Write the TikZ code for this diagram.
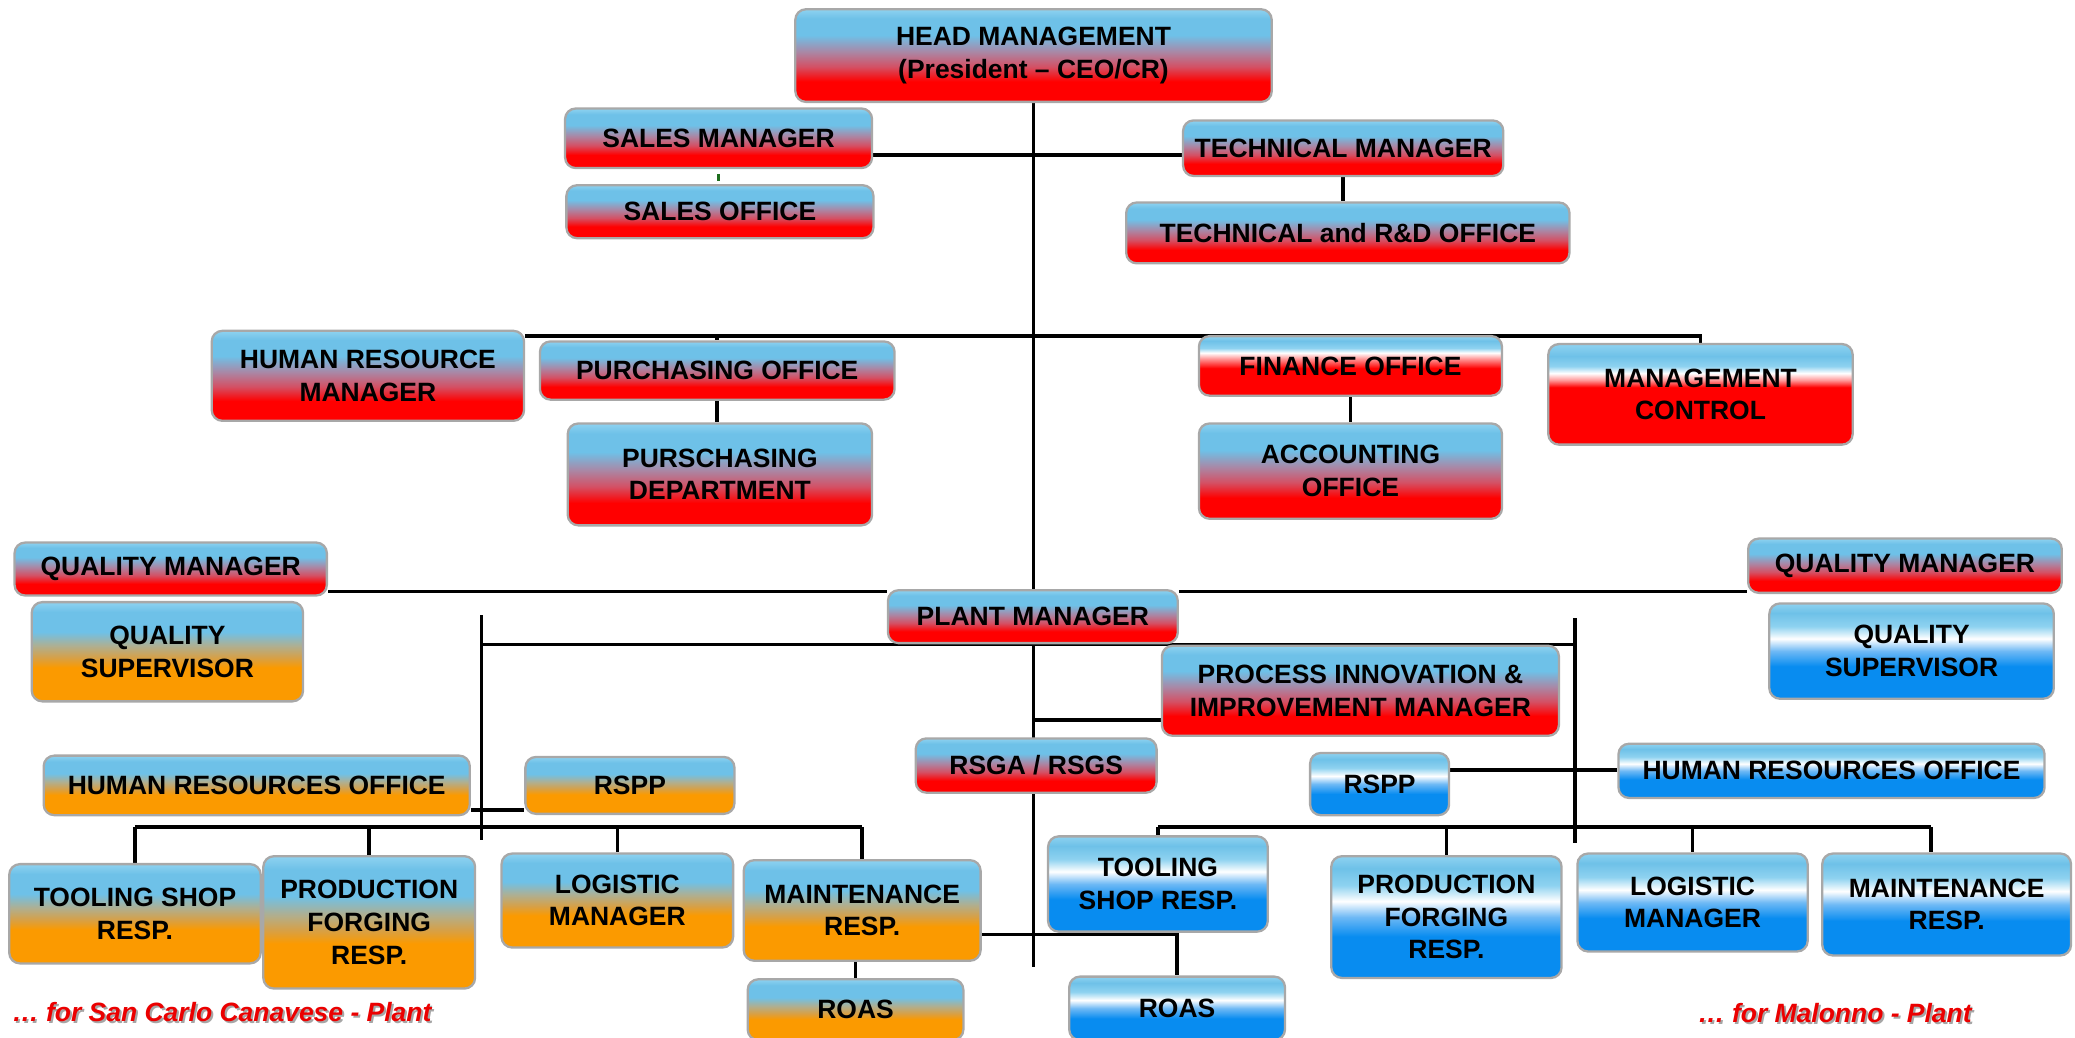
\documentclass[tikz,border=0pt]{standalone}
\usepackage{fontspec}
\setmainfont{Liberation Sans}
\usetikzlibrary{calc}
\pgfdeclarelayer{bg}
\pgfsetlayers{bg,main}

\definecolor{lb}{RGB}{142,210,240}
\definecolor{bl}{RGB}{110,193,232}
\definecolor{rd}{RGB}{255,0,0}
\definecolor{mauveA}{RGB}{212,80,100}
\definecolor{mauveB}{RGB}{170,135,165}
\definecolor{orng}{RGB}{251,154,0}
\definecolor{tanA}{RGB}{215,160,70}
\definecolor{tanB}{RGB}{175,175,145}
\definecolor{dblue}{RGB}{8,140,240}
\definecolor{mblue}{RGB}{110,185,245}
\definecolor{pinkA}{RGB}{255,150,150}
\definecolor{bordergray}{RGB}{168,168,168}
\definecolor{lblred}{RGB}{235,0,0}
\definecolor{tick}{RGB}{30,110,30}

\pgfdeclareverticalshading{redsh}{100bp}{color(0bp)=(rd); color(36bp)=(rd); color(44bp)=(mauveA); color(52bp)=(mauveB); color(61bp)=(bl); color(70bp)=(bl); color(75bp)=(lb); color(100bp)=(lb)}
\pgfdeclareverticalshading{orsh}{100bp}{color(0bp)=(orng); color(42bp)=(orng); color(47bp)=(tanA); color(53bp)=(tanB); color(60bp)=(bl); color(70bp)=(bl); color(75bp)=(lb); color(100bp)=(lb)}
\pgfdeclareverticalshading{bwsh}{100bp}{color(0bp)=(dblue); color(42bp)=(dblue); color(50bp)=(mblue); color(56.5bp)=(white); color(63bp)=(lb); color(70bp)=(bl); color(75bp)=(lb); color(100bp)=(lb)}
\pgfdeclareverticalshading{fosh}{100bp}{color(0bp)=(rd); color(48bp)=(rd); color(56bp)=(pinkA); color(61bp)=(white); color(65bp)=(lb); color(71bp)=(bl); color(75bp)=(lb); color(100bp)=(lb)}
\pgfdeclareverticalshading{mcsh}{100bp}{color(0bp)=(rd); color(53.5bp)=(rd); color(57bp)=(pinkA); color(60.5bp)=(white); color(64bp)=(lb); color(69bp)=(bl); color(75bp)=(lb); color(100bp)=(lb)}

\tikzset{
  nb/.style={draw=bordergray, line width=1.3pt, rounded corners=6pt,
    font=\bfseries\fontsize{15}{18.5}\selectfont, align=center,
    inner sep=0pt, text=black},
  sz/.style 2 args={minimum width=#1*0.75pt, minimum height=#2*0.75pt},
  conn/.style={line width=2pt, black},
  lbl/.style={font=\bfseries\itshape\fontsize{15}{18}\selectfont, inner sep=0pt},
}

\begin{document}
\begin{tikzpicture}[x=0.75pt, y=-0.75pt]
\useasboundingbox (0,0) rectangle (1568,784);

% ---------- top management ----------
\node[nb, shading=redsh, sz={360}{70}] (head) at (781,42) {HEAD MANAGEMENT\\(President – CEO/CR)};
\node[nb, shading=redsh, sz={232}{45}] (salesm) at (543,104.5) {SALES MANAGER};
\node[nb, shading=redsh, sz={232}{40}] (saleso) at (544,160) {SALES OFFICE};
\node[nb, shading=redsh, sz={242}{42}] (techm) at (1015,112) {TECHNICAL MANAGER};
\node[nb, shading=redsh, sz={335}{46}] (techrd) at (1018.5,176) {TECHNICAL and R\&D OFFICE};

\node[nb, shading=redsh, sz={236}{68}] (hrm) at (278,284) {HUMAN RESOURCE\\MANAGER};
\node[nb, shading=redsh, sz={268}{44}] (po) at (542,280) {PURCHASING OFFICE};
\node[nb, shading=redsh, sz={230}{77}] (pd) at (544,358.5) {PURSCHASING\\DEPARTMENT};
\node[nb, shading=fosh, sz={229}{45}] (fo) at (1020.5,276.5) {FINANCE OFFICE};
\node[nb, shading=redsh, sz={229}{72}] (ao) at (1020.5,356) {ACCOUNTING\\OFFICE};
\node[nb, shading=mcsh, sz={230}{76}] (mc) at (1285,298) {MANAGEMENT\\CONTROL};

% ---------- plant level ----------
\node[nb, shading=redsh, sz={236}{40}] (qml) at (129,430) {QUALITY MANAGER};
\node[nb, shading=orsh, sz={205}{75}] (qsl) at (126.5,492.5) {QUALITY\\SUPERVISOR};
\node[nb, shading=redsh, sz={219}{40}] (pm) at (780.5,466) {PLANT MANAGER};
\node[nb, shading=redsh, sz={237}{41}] (qmr) at (1439.5,427.5) {QUALITY MANAGER};
\node[nb, shading=bwsh, sz={215}{72}] (qsr) at (1444.5,492) {QUALITY\\SUPERVISOR};
\node[nb, shading=redsh, sz={300}{68}] (pim) at (1028,522) {PROCESS INNOVATION \&\\IMPROVEMENT MANAGER};
\node[nb, shading=redsh, sz={182}{41}] (rsga) at (783,578.5) {RSGA / RSGS};

% ---------- San Carlo Canavese ----------
\node[nb, shading=orsh, sz={322}{45}] (hrl) at (194,593.5) {HUMAN RESOURCES OFFICE};
\node[nb, shading=orsh, sz={158}{43}] (rsppl) at (476,593.5) {RSPP};
\node[nb, shading=orsh, sz={190}{75}] (tsl) at (102,690.5) {TOOLING SHOP\\RESP.};
\node[nb, shading=orsh, sz={160}{100}] (pfl) at (279,697) {PRODUCTION\\FORGING\\RESP.};
\node[nb, shading=orsh, sz={175}{71}] (lml) at (466.5,680.5) {LOGISTIC\\MANAGER};
\node[nb, shading=orsh, sz={179}{76}] (mtl) at (651.5,688) {MAINTENANCE\\RESP.};
\node[nb, shading=orsh, sz={163}{46}] (roasl) at (646.5,763) {ROAS};

% ---------- Malonno ----------
\node[nb, shading=bwsh, sz={105}{47}] (rsppr) at (1042.5,592.5) {RSPP};
\node[nb, shading=bwsh, sz={322}{41}] (hrr) at (1384,582.5) {HUMAN RESOURCES OFFICE};
\node[nb, shading=bwsh, sz={166}{72}] (tsr) at (875,668) {TOOLING\\SHOP RESP.};
\node[nb, shading=bwsh, sz={174}{92}] (pfr) at (1093,693) {PRODUCTION\\FORGING\\RESP.};
\node[nb, shading=bwsh, sz={174}{74}] (lmr) at (1279,682) {LOGISTIC\\MANAGER};
\node[nb, shading=bwsh, sz={188}{77}] (mtr) at (1471,683.5) {MAINTENANCE\\RESP.};
\node[nb, shading=bwsh, sz={163}{48}] (roasr) at (889.5,762) {ROAS};

% ---------- labels ----------
\node[lbl, text=black!35, anchor=base west] (lblAs) at (10.5,773.5) {… for San Carlo Canavese - Plant};
\node[lbl, text=lblred, anchor=base west] (lblA) at (9,772) {… for San Carlo Canavese - Plant};
\node[lbl, text=black!35, anchor=base west] (lblBs) at (1284.5,774.5) {… for Malonno - Plant};
\node[lbl, text=lblred, anchor=base west] (lblB) at (1283,773) {… for Malonno - Plant};

% ---------- junction coordinates ----------
\coordinate (mainEnd) at (781,731);
\coordinate (y117) at (781,117);
\coordinate (y254) at (781,254);
\coordinate (y447) at (781,447);
\coordinate (y544) at (781,544);
\coordinate (y706) at (781,706);
\coordinate (lvT) at (364,465);
\coordinate (lvB) at (364,635);
\coordinate (rvT) at (1190,467);
\coordinate (rvB) at (1190,637);
\coordinate (y612) at (364,612);
\coordinate (lbus) at (364,625);
\coordinate (y582) at (1190,582);
\coordinate (rbus) at (1459,625);

% ---------- connectors ----------
\begin{pgfonlayer}{bg}
\draw[conn] (head.south) -- (mainEnd);
\draw[conn] (salesm.east |- y117) -- (techm.west |- y117);
\draw[line width=1.8pt, tick] ($(salesm.south)+(0,3.5)$) -- ($(salesm.south |- saleso.north)+(0,-2.5)$);
\draw[conn] (techm.south) -- (techm.south |- techrd.north);

\draw[conn] (hrm.east |- y254) -- (mc.north |- y254) -- (mc.north);
\draw[conn] (po.north |- y254) -- (po.north);
\draw[conn] (po.south) -- (po.south |- pd.north);
\draw[conn] (fo.south) -- (fo.south |- ao.north);

\draw[conn] (qml.east |- y447) -- (pm.west |- y447);
\draw[conn] (pm.east |- y447) -- (qmr.west |- y447);
\draw[conn] (lvT) -- (lvB);
\draw[conn] (rvT) -- (rvB);
\draw[conn] (lvT |- pm.south) -- (rvT |- pm.south);
\draw[conn] (y544) -- (pim.west |- y544);

\draw[conn] (hrl.east |- y612) -- (rsppl.west |- y612);
\draw[conn] (tsl.north |- lbus) -- (mtl.north |- lbus);
\foreach \n in {tsl,pfl,lml,mtl} \draw[conn] (\n.north |- lbus) -- (\n.north);
\draw[conn] (roasl.north |- mtl.south) -- (roasl.north);
\draw[conn] (mtl.east |- y706) -- (roasr.north |- y706) -- (roasr.north);

\draw[conn] (rsppr.east |- y582) -- (hrr.west |- y582);
\draw[conn] (tsr.north |- rbus) -- (rbus);
\foreach \n in {tsr,pfr,lmr} \draw[conn] (\n.north |- rbus) -- (\n.north);
\draw[conn] (rbus) -- (rbus |- mtr.north);
\end{pgfonlayer}
\end{tikzpicture}
\end{document}
